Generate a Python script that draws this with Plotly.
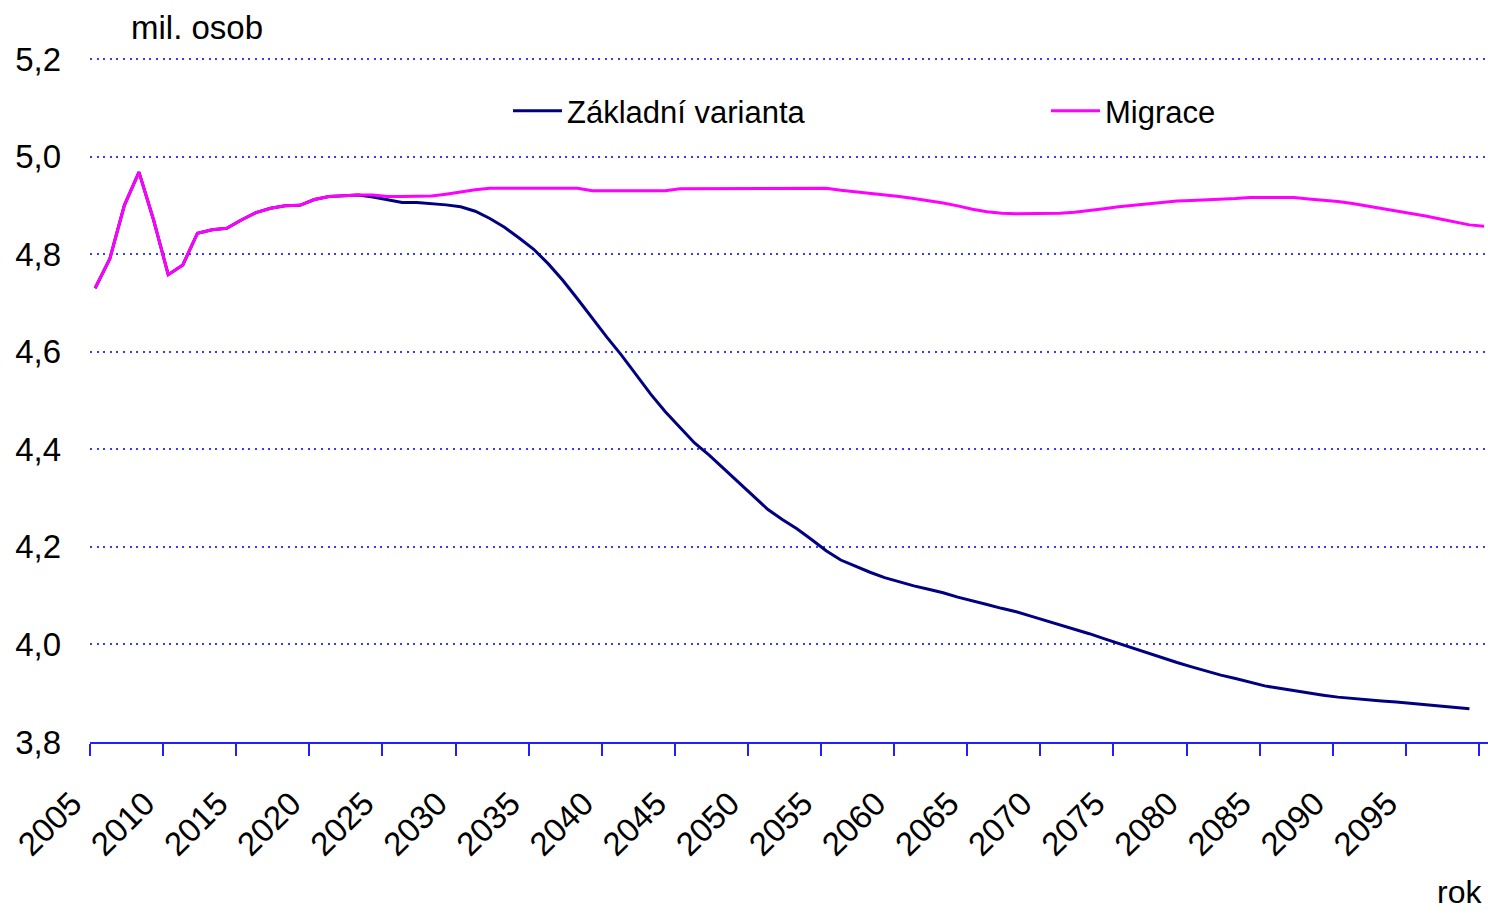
import plotly.graph_objects as go

# Population projection, millions of persons, by year
years = list(range(2005, 2101))

migrace = [
    4.730, 4.790, 4.900, 4.968, 4.870, 4.758, 4.778, 4.843, 4.850, 4.853,  # 2005-2014
    4.870, 4.885, 4.894, 4.899, 4.900, 4.912, 4.918, 4.920, 4.921, 4.921,  # 2015-2024
    4.918, 4.918, 4.918, 4.919, 4.923, 4.928, 4.932, 4.935, 4.935, 4.935,  # 2025-2034
    4.935, 4.935, 4.935, 4.935, 4.930, 4.930, 4.930, 4.930, 4.930, 4.930,  # 2035-2044
    4.934, 4.934, 4.934, 4.934, 4.934, 4.934, 4.934, 4.934, 4.934, 4.934,  # 2045-2054
    4.935, 4.931, 4.928, 4.924, 4.921, 4.918, 4.914, 4.910, 4.905, 4.899,  # 2055-2064
    4.892, 4.887, 4.884, 4.883, 4.883, 4.883, 4.884, 4.886, 4.889, 4.893,  # 2065-2074
    4.897, 4.900, 4.904, 4.907, 4.909, 4.910, 4.911, 4.913, 4.914, 4.916,  # 2075-2084
    4.916, 4.916, 4.916, 4.913, 4.911, 4.908, 4.904, 4.899, 4.894, 4.889,  # 2085-2094
    4.884, 4.878, 4.872, 4.866, 4.860, 4.857,                              # 2095-2100
]

zakladni = [
    4.730, 4.790, 4.900, 4.968, 4.870, 4.758, 4.778, 4.843, 4.850, 4.853,  # 2005-2014
    4.870, 4.885, 4.894, 4.899, 4.900, 4.912, 4.918, 4.920, 4.921, 4.917,  # 2015-2024
    4.912, 4.906, 4.906, 4.904, 4.901, 4.897, 4.888, 4.873, 4.855, 4.833,  # 2025-2034
    4.810, 4.780, 4.746, 4.708, 4.668, 4.630, 4.593, 4.552, 4.513, 4.477,  # 2035-2044
    4.444, 4.413, 4.388, 4.360, 4.333, 4.304, 4.277, 4.256, 4.237, 4.215,  # 2045-2054
    4.192, 4.173, 4.160, 4.148, 4.137, 4.128, 4.120, 4.113, 4.106, 4.097,  # 2055-2064
    4.090, 4.082, 4.074, 4.067, 4.058, 4.049, 4.041, 4.031, 4.022, 4.012,  # 2065-2074
    4.002, 3.992, 3.982, 3.972, 3.963, 3.954, 3.945, 3.937, 3.930, 3.923,  # 2075-2084
    3.915, 3.910, 3.905, 3.900, 3.896, 3.892, 3.889, 3.886, 3.884, 3.882,  # 2085-2094
    3.879, 3.876, 3.873, 3.870, 3.868,                                     # 2095-2099
]

tick_years = list(range(2005, 2101, 5))
tick_labels = [str(y) for y in range(2005, 2100, 5)] + [""]
y_ticks = [3.8, 4.0, 4.2, 4.4, 4.6, 4.8, 5.0, 5.2]

FONT = "Arial, 'Liberation Sans', sans-serif"
AXIS_BLUE = "#1f1fff"

fig = go.Figure()

fig.add_trace(go.Scatter(
    x=years[:len(zakladni)], y=zakladni, mode="lines",
    name="Základní varianta", line=dict(color="#000080", width=3),
    legend="legend", showlegend=True, hoverinfo="x+y",
))
fig.add_trace(go.Scatter(
    x=years[:len(migrace)], y=migrace, mode="lines",
    name="Migrace", line=dict(color="#ff00ff", width=3),
    legend="legend2", showlegend=True, hoverinfo="x+y",
))

# ticks sit on the category boundaries, just left of each year's point
half_step = 0.35
# a little headroom so the top gridline is drawn inside the plot area
y_headroom = 0.0041

fig.update_layout(
    width=1488, height=913,
    margin=dict(l=90, r=0, t=57, b=171),
    paper_bgcolor="white", plot_bgcolor="white",
    font=dict(family=FONT, size=31, color="black"),
    separators=", ",
    showlegend=True,
    xaxis=dict(
        range=[tick_years[0] - half_step, tick_years[0] - half_step + 95.62],
        tickmode="array",
        tickvals=[y - half_step for y in tick_years],
        ticktext=tick_labels,
        tickangle=-45,
        ticks="outside", ticklen=12, tickwidth=2, tickcolor=AXIS_BLUE,
        showline=True, linecolor=AXIS_BLUE, linewidth=2,
        showgrid=False, zeroline=False,
        tickfont=dict(size=33),
        ticklabelstandoff=15,
        ticklabelshift=-18,
    ),
    yaxis=dict(
        range=[y_ticks[0], y_ticks[-1] + y_headroom],
        tickmode="array", tickvals=y_ticks,
        tickformat=".1f",
        showgrid=True, gridcolor="#3a3aff", gridwidth=1.6,
        griddash="2px,4.6px",
        zeroline=False, showline=False, ticks="",
        tickfont=dict(size=33),
        ticklabelstandoff=28,
    ),
    legend=dict(
        x=(508 - 90) / 1398, y=(742 - 111) / 685,
        xanchor="left", yanchor="middle",
        orientation="h", itemwidth=49,
        bgcolor="rgba(0,0,0,0)", borderwidth=0,
        font=dict(size=31),
    ),
    legend2=dict(
        x=(1046 - 90) / 1398, y=(742 - 111) / 685,
        xanchor="left", yanchor="middle",
        orientation="h", itemwidth=49,
        bgcolor="rgba(0,0,0,0)", borderwidth=0,
        font=dict(size=31),
    ),
    annotations=[
        dict(text="mil. osob", xref="paper", yref="paper",
             x=(129 - 90) / 1398, y=1 + (57 - 27) / 685,
             xanchor="left", yanchor="middle", showarrow=False,
             font=dict(size=33)),
        dict(text="rok", xref="paper", yref="paper",
             x=(1484 - 90) / 1398, y=-(892 - 742) / 685,
             xanchor="right", yanchor="middle", showarrow=False,
             font=dict(size=32)),
    ],
)

fig.write_html("out.html")
